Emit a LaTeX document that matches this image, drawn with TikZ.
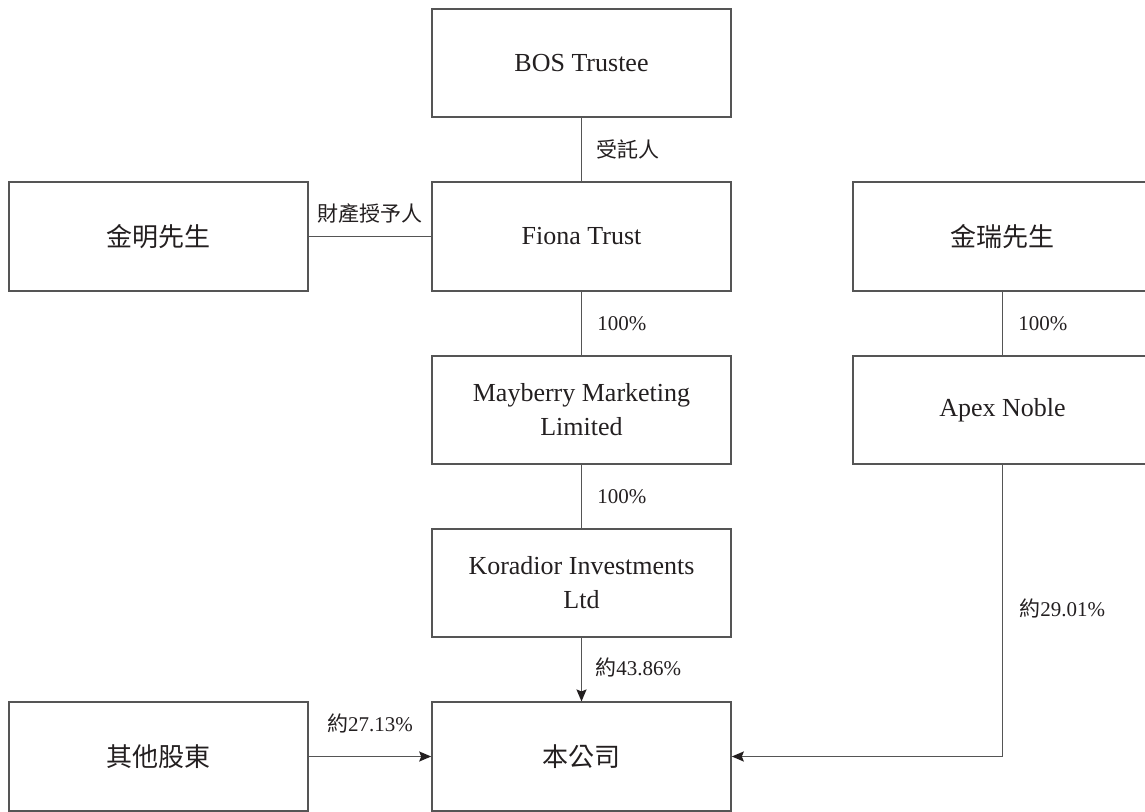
\documentclass[tikz,border=0pt]{standalone}
\usepackage{fontspec}
\setmainfont{Liberation Serif}
\newfontfamily\cjk{Noto Sans CJK TC}
\usetikzlibrary{arrows.meta}
\definecolor{linegray}{HTML}{555555}
\definecolor{txt}{HTML}{231F20}
\begin{document}
\begin{tikzpicture}[x=1pt,y=-1pt,
  box/.style={draw=linegray, line width=1.6pt, minimum width=299pt, minimum height=108.5pt,
    align=center, text=txt, font=\fontsize{26}{34}\selectfont, inner sep=0pt},
  conn/.style={draw=linegray, line width=1.8pt},
  arr/.style={conn, -{Stealth[length=12pt,width=10pt,inset=2pt,color=txt]}},
  lbl/.style={text=txt, font=\fontsize{21}{25}\selectfont, inner sep=0pt}]
\useasboundingbox (0,0) rectangle (1145,811);
\clip (0,0) rectangle (1145,811);
\node[box] (bos) at (581.5,63) {BOS Trustee};
\node[box] (jm) at (158.5,236.5) {\cjk 金明先生};
\node[box] (fiona) at (581.5,236.5) {Fiona Trust};
\node[box] (jr) at (1002.5,236.5) {\cjk 金瑞先生};
\node[box] (may) at (581.5,410) {Mayberry Marketing\\Limited};
\node[box] (apex) at (1002.5,410) {Apex Noble};
\node[box] (kor) at (581.5,583) {Koradior Investments\\Ltd};
\node[box] (oth) at (158.5,756.5) {\cjk 其他股東};
\node[box] (co) at (581.5,756.5) {\cjk 本公司};

\draw[conn] (bos) -- (fiona) node[lbl, midway, anchor=west, xshift=14pt] {\cjk 受託人};
\draw[conn] (jm) -- (fiona) node[lbl, midway, anchor=south, yshift=12pt] {\cjk 財產授予人};
\draw[conn] (fiona) -- (may) node[lbl, midway, anchor=west, xshift=15pt] {100\%};
\draw[conn] (jr) -- (apex) node[lbl, midway, anchor=west, xshift=15pt] {100\%};
\draw[conn] (may) -- (kor) node[lbl, midway, anchor=west, xshift=15pt] {100\%};
\draw[arr] (kor) -- (co) node[lbl, midway, anchor=west, xshift=13pt, yshift=2pt] {{\cjk 約}43.86\%};
\draw[arr] (oth) -- (co) node[lbl, midway, anchor=south, yshift=23pt] {{\cjk 約}27.13\%};
\draw[arr] (apex) |- (co) node[lbl, pos=0.25, anchor=west, xshift=16pt, yshift=2pt] {{\cjk 約}29.01\%};
\end{tikzpicture}
\end{document}
